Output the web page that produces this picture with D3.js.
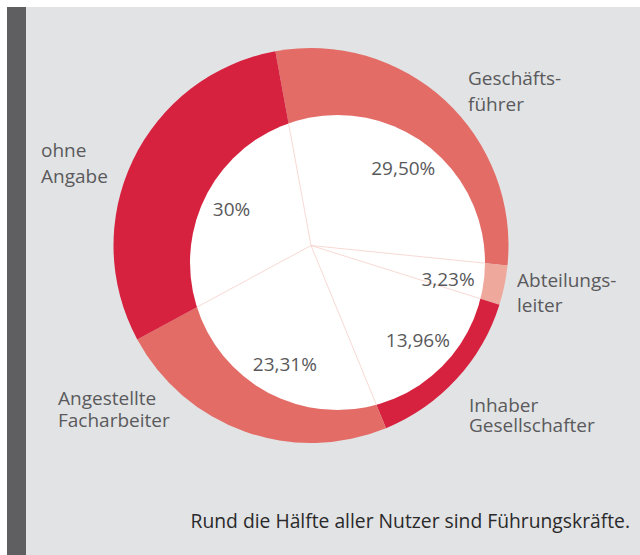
<!DOCTYPE html>
<html>
<head>
<meta charset="utf-8">
<script src="https://cdn.jsdelivr.net/npm/d3@7"></script>
<style>
  html, body { margin: 0; padding: 0; background: #fff; }
  svg { display: block; }
  text { font-family: "Open Sans", sans-serif; }
</style>
</head>
<body>
<div id="donut"></div>
<script>
/* Nutzer nach Position - donut with offset white centre */

const categories = ["Geschäftsführer", "Abteilungsleiter", "Inhaber Gesellschafter", "Angestellte Facharbeiter", "ohne Angabe"];
const shares = [29.50, 3.23, 13.96, 23.31, 30];
const shareLabels = ["29,50%", "3,23%", "13,96%", "23,31%", "30%"];
const outerLabels = [["Geschäfts-", "führer"], ["Abteilungs-", "leiter"], ["Inhaber", "Gesellschafter"], ["Angestellte", "Facharbeiter"], ["ohne", "Angabe"]];
const sliceColors = ["#e36c66", "#eea89c", "#d6223f", "#e36c66", "#d6223f"];

const width = 640, height = 555;
const cx = 311, cy = 245.5, outerR = 197.5;
// white centre is not concentric with the ring
const hole = { x: 337.5, y: 262.5, r: 147.5 };
const startDeg = -10.4;

// hand placed annotation anchors (left x, first baseline, line step)
const outerPos = [[468, 85, 26], [517, 287, 25], [469, 412, 20], [58, 405, 22], [41, 157, 26]];

let svg = d3.select("#donut")
    .append("svg")
    .attr("width", width)
    .attr("height", height);

/* background panel + dark side bar */
svg.append("rect")
    .attr("x", 7).attr("y", 7)
    .attr("width", width - 7).attr("height", height - 7)
    .attr("fill", "#e2e3e5");
svg.append("rect")
    .attr("x", 7).attr("y", 7)
    .attr("width", 19).attr("height", height - 7)
    .attr("fill", "#5f5f62");

let data = categories.map((c, i) => ({ name: c, value: shares[i], label: shareLabels[i], lines: outerLabels[i], color: sliceColors[i] }));

let pie = d3.pie()
    .sort(null)
    .value(d => d.value)
    .startAngle(startDeg * Math.PI / 180)
    .endAngle((startDeg + 360) * Math.PI / 180);

let arcs = pie(data);

let arc = d3.arc().innerRadius(0).outerRadius(outerR);

let g = svg.append("g").attr("transform", `translate(${cx},${cy})`);

g.selectAll(".slice")
    .data(arcs)
    .join("path")
    .attr("class", "slice")
    .attr("d", arc)
    .attr("fill", d => d.data.color);

/* white centre */
svg.append("circle")
    .attr("cx", hole.x).attr("cy", hole.y).attr("r", hole.r)
    .attr("fill", "#fff");

/* distance from point (px,py) to edge of the white circle along angle a */
function edgeDist(px, py, a) {
    let ox = hole.x - px, oy = hole.y - py;
    let ux = Math.sin(a), uy = -Math.cos(a);
    let p = ux * ox + uy * oy;
    return p + Math.sqrt(p * p - (ox * ox + oy * oy) + hole.r * hole.r);
}

/* thin slice borders inside the white area */
let overlay = svg.append("g").attr("transform", `translate(${cx},${cy})`);

overlay.selectAll(".spoke")
    .data(arcs)
    .join("line")
    .attr("class", "spoke")
    .attr("x1", 0).attr("y1", 0)
    .attr("x2", d => Math.sin(d.startAngle) * edgeDist(cx, cy, d.startAngle))
    .attr("y2", d => -Math.cos(d.startAngle) * edgeDist(cx, cy, d.startAngle))
    .attr("stroke", "#f6cfc9")
    .attr("stroke-width", 0.8);

/* percentage labels: halfway between ring centre and disc centre, along the mid angle */
const lx = (cx + hole.x) / 2, ly = (cy + hole.y) / 2;

svg.append("g")
    .attr("transform", `translate(${lx},${ly})`)
    .selectAll(".pct")
    .data(arcs)
    .join("text")
    .attr("class", "pct")
    .each(function (d) {
        let a = (d.startAngle + d.endAngle) / 2;
        let r = edgeDist(lx, ly, a) * 0.78;
        d3.select(this)
            .attr("x", Math.sin(a) * r)
            .attr("y", -Math.cos(a) * r);
    })
    .attr("dy", "0.35em")
    .attr("text-anchor", "middle")
    .style("font-size", "19px")
    .style("fill", "#59595b")
    .text(d => d.data.label);

/* category labels outside the ring */
let lab = svg.selectAll(".cat")
    .data(data)
    .join("text")
    .attr("class", "cat")
    .style("font-size", "19px")
    .style("fill", "#5a5a5c");

lab.each(function (d, i) {
    let [x, y, step] = outerPos[i];
    d3.select(this).selectAll("tspan")
        .data(d.lines)
        .join("tspan")
        .attr("x", x)
        .attr("y", (l, j) => y + j * step)
        .text(l => l);
});

/* caption */
svg.append("text")
    .attr("x", 630)
    .attr("y", 528)
    .attr("text-anchor", "end")
    .style("font-size", "19.3px")
    .style("fill", "#2a2a2b")
    .text("Rund die Hälfte aller Nutzer sind Führungskräfte.");
</script>
</body>
</html>
